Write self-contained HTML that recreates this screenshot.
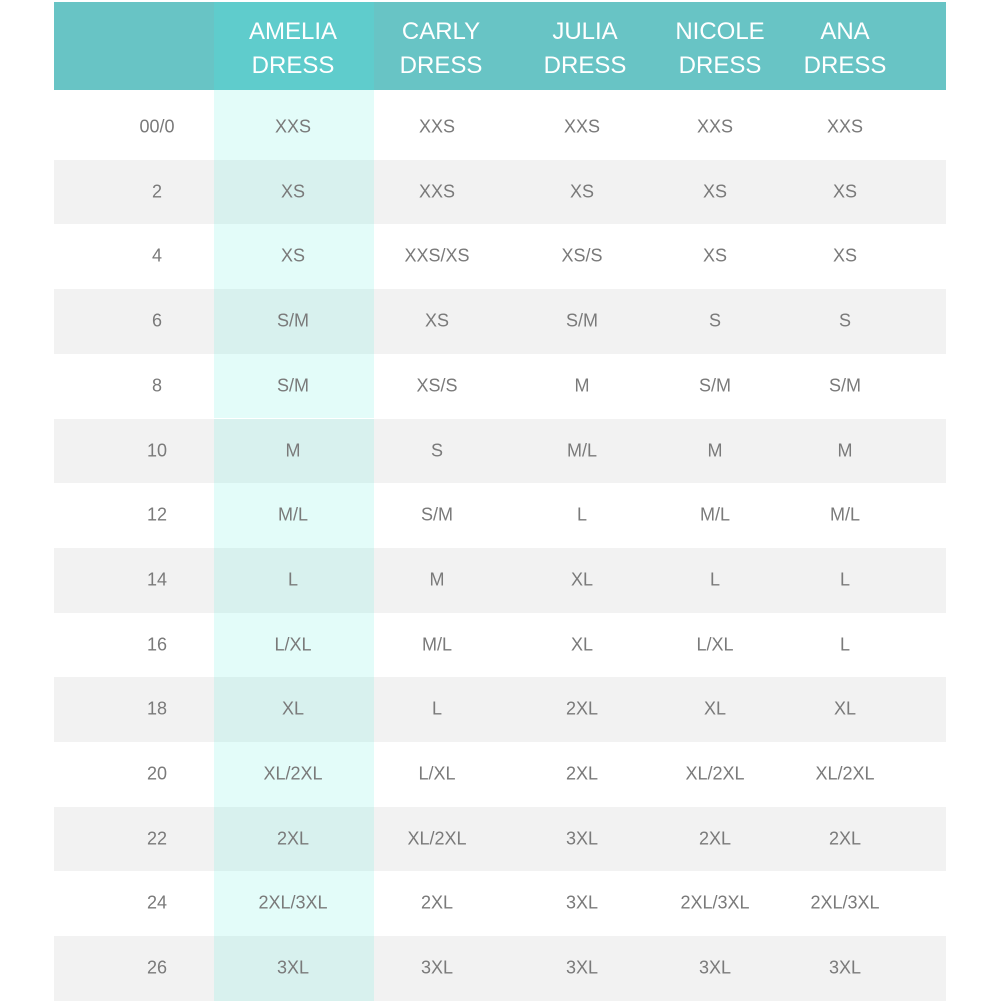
<!DOCTYPE html>
<html><head><style>
body{margin:0;width:1000px;height:1000px;background:#fff;position:relative;overflow:hidden;font-family:"Liberation Sans","DejaVu Sans",sans-serif}
.hd{position:absolute;left:54px;top:2px;width:892px;height:88px;background:#68c4c5}
.hl{position:absolute;left:214px;width:160px}
.row{position:absolute;left:54px;width:892px;height:64.7px}
.c{position:absolute;transform:translate(-50%,-50%);white-space:nowrap;color:#7a7a7a;font-size:18px}
.h{position:absolute;transform:translateX(-50%);color:#fff;font-size:24px;text-align:center;line-height:34px;top:15px}
</style></head><body>
<div class="hd"></div>
<div class="hl" style="top:2px;height:88px;background:#5fcccc"></div>
<div class="hl" style="top:90px;height:6px;background:#e3fcf9"></div>
<div id="rows"></div>
<div class="h" style="left:293px">AMELIA<br>DRESS</div>
<div class="h" style="left:441px">CARLY<br>DRESS</div>
<div class="h" style="left:585px">JULIA<br>DRESS</div>
<div class="h" style="left:720px">NICOLE<br>DRESS</div>
<div class="h" style="left:845px">ANA<br>DRESS</div>
<script>
var d=[["00/0","XXS","XXS","XXS","XXS","XXS"],["2","XS","XXS","XS","XS","XS"],["4","XS","XXS/XS","XS/S","XS","XS"],["6","S/M","XS","S/M","S","S"],["8","S/M","XS/S","M","S/M","S/M"],["10","M","S","M/L","M","M"],["12","M/L","S/M","L","M/L","M/L"],["14","L","M","XL","L","L"],["16","L/XL","M/L","XL","L/XL","L"],["18","XL","L","2XL","XL","XL"],["20","XL/2XL","L/XL","2XL","XL/2XL","XL/2XL"],["22","2XL","XL/2XL","3XL","2XL","2XL"],["24","2XL/3XL","2XL","3XL","2XL/3XL","2XL/3XL"],["26","3XL","3XL","3XL","3XL","3XL"]];
var xs=[157,293,437,582,715,845],h="";
d.forEach(function(r,i){var t=95+i*64.7;var g=i%2==1;
h+='<div class="row" style="top:'+t+'px;background:'+(g?'#f2f2f2':'#fff')+'"></div>';
h+='<div class="hl" style="top:'+t+'px;height:64.7px;background:'+(g?'#d8f1ee':'#e3fcf9')+'"></div>';
r.forEach(function(v,j){h+='<div class="c" style="left:'+xs[j]+'px;top:'+(t+32)+'px">'+v+'</div>';});});
document.getElementById('rows').innerHTML=h;
</script>
</body></html>
